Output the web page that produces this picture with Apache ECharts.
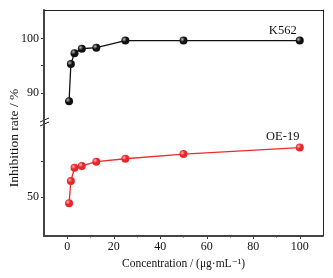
<!DOCTYPE html>
<html>
<head>
<meta charset="utf-8">
<script src="https://cdn.jsdelivr.net/npm/echarts@6/dist/echarts.min.js"></script>
<style>
  html, body { margin: 0; padding: 0; background: #fff; }
  #chart { width: 333px; height: 278px; }
</style>
</head>
<body>
<div id="chart"></div>
<script>
// concentrations in µg/mL
const concentrations = [0.78, 1.56, 3.125, 6.25, 12.5, 25, 50, 100];
const k562Rates = [88.5, 95.3, 97.3, 98.1, 98.3, 99.6, 99.6, 99.6];
const oe19Rates = [48.3, 54.4, 58.1, 58.6, 59.8, 60.6, 61.9, 63.7];
const xMajorTicks = [0, 20, 40, 60, 80, 100];
const xMinorTicks = [10, 30, 50, 70, 90];
const topTickLabels = [90, 100];
const bottomTickLabels = [50];

const font = '"Liberation Serif", "DejaVu Serif", serif';
const axisColor = '#444';

const chart = echarts.init(document.getElementById('chart'));

// points; the last one carries the series name as its label
const pair = (ys, name, offset) => concentrations.map((x, i) => {
  if (i < concentrations.length - 1) return [x, ys[i]];
  return {
    value: [x, ys[i]],
    label: { show: true, formatter: name, position: 'top', offset, color: '#111', fontFamily: font, fontSize: 12.5 }
  };
});

const ball = (base, hi) => ({
  type: 'radial', x: 0.35, y: 0.35, r: 0.7,
  colorStops: [{ offset: 0, color: hi }, { offset: 0.45, color: base }, { offset: 1, color: base }]
});

const xBase = (gridIndex, showLabels) => ({
  type: 'value', gridIndex, min: -10, max: 110,
  position: showLabels ? 'bottom' : 'top',
  axisLine: { show: true, onZero: false, lineStyle: { color: showLabels ? axisColor : '#222', width: showLabels ? 2 : 1 } },
  axisTick: { show: showLabels, inside: false, length: 3, customValues: xMajorTicks, lineStyle: { color: axisColor } },
  axisLabel: { show: showLabels, customValues: xMajorTicks, color: '#111', fontFamily: font, fontSize: 12, margin: 5 },
  splitLine: { show: false },
  name: showLabels ? 'Concentration / (μg·mL⁻¹)' : '',
  nameLocation: 'middle', nameGap: 22,
  nameTextStyle: { color: '#111', fontFamily: font, fontSize: 11.5 }
});

const xMinor = (gridIndex) => ({
  type: 'value', gridIndex, min: -10, max: 110, position: 'bottom',
  axisLine: { show: false, onZero: false },
  axisTick: { show: true, length: 1.5, customValues: xMinorTicks, lineStyle: { color: axisColor } },
  axisLabel: { show: false }, splitLine: { show: false }
});

const yLeft = (gridIndex, min, max, labels, ticks) => ({
  type: 'value', gridIndex, min, max, position: 'left',
  axisLine: { show: true, onZero: false, lineStyle: { color: axisColor, width: 2 } },
  axisTick: { show: true, length: 3, customValues: ticks, lineStyle: { color: axisColor } },
  axisLabel: { customValues: labels, color: '#111', fontFamily: font, fontSize: 12, margin: 5 },
  splitLine: { show: false }
});

const yRight = (gridIndex, min, max) => ({
  type: 'value', gridIndex, min, max, position: 'right',
  axisLine: { show: true, onZero: false, lineStyle: { color: '#222', width: 1 } },
  axisTick: { show: false }, axisLabel: { show: false }, splitLine: { show: false }
});

const option = {
  animation: false,
  grid: [
    { left: 44, right: 10, top: 10, height: 113 },
    { left: 44, right: 10, top: 123, height: 113 }
  ],
  xAxis: [xBase(0, false), xBase(1, true), xMinor(1)],
  yAxis: [
    yLeft(0, 84.5, 105.2, topTickLabels, [90, 95, 100]),
    yRight(0, 84.5, 105.2),
    yLeft(1, 39.2, 70.5, bottomTickLabels, [50, 60]),
    yRight(1, 39.2, 70.5)
  ],
  series: [
    {
      name: 'K562', type: 'line', xAxisIndex: 0, yAxisIndex: 0,
      data: pair(k562Rates, 'K562', [-17, 6]),
      symbol: 'circle', symbolSize: 8,
      lineStyle: { color: '#111', width: 1.3 },
      itemStyle: { color: ball('#111', '#bbb'), borderWidth: 0 }
    },
    {
      name: 'OE-19', type: 'line', xAxisIndex: 1, yAxisIndex: 2,
      data: pair(oe19Rates, 'OE-19', [-17, 5]),
      symbol: 'circle', symbolSize: 8,
      lineStyle: { color: '#ee2b2b', width: 1.3 },
      itemStyle: { color: ball('#e8262a', '#ffb0b0'), borderWidth: 0 }
    }
  ],
  graphic: [
    {
      type: 'text', x: 7, y: 138, rotation: Math.PI / 2, originX: 0, originY: 0,
      style: { text: 'Inhibition rate / %', font: '13.5px ' + font, fill: '#111', textAlign: 'center', textVerticalAlign: 'top' }
    },
    // axis break marks
    { type: 'rect', shape: { x: 42, y: 120.5, width: 5, height: 3 }, style: { fill: '#fff' } },
    { type: 'line', shape: { x1: 40, y1: 122, x2: 49, y2: 118 }, style: { stroke: '#222', lineWidth: 1 } },
    { type: 'line', shape: { x1: 40, y1: 126, x2: 49, y2: 122 }, style: { stroke: '#222', lineWidth: 1 } }
  ]
};

chart.setOption(option);
</script>
</body>
</html>
